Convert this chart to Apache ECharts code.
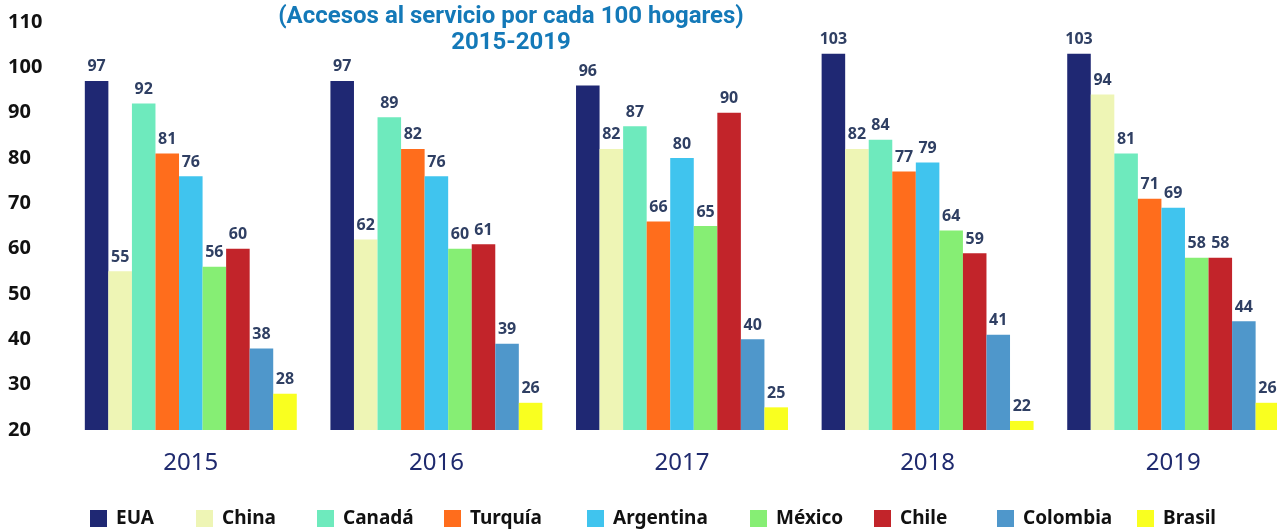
<!DOCTYPE html>
<html>
<head>
<meta charset="utf-8">
<script src="https://cdn.jsdelivr.net/npm/echarts@6/dist/echarts.min.js"></script>
<style>
  html, body { margin: 0; padding: 0; background: #fff; }
  #chart { width: 1277px; height: 530px; }
</style>
</head>
<body>
<div id="chart"></div>
<script>
// Accesos por cada 100 hogares, 2015-2019
const years = ['2015', '2016', '2017', '2018', '2019'];
const countries = ['EUA', 'China', 'Canadá', 'Turquía', 'Argentina', 'México', 'Chile', 'Colombia', 'Brasil'];
const colors = ['#1f2873', '#eef5b5', '#6eeabd', '#ff6d1c', '#40c4ee', '#86ee74', '#c2242a', '#4f97cb', '#f9ff20'];

const eua = [97, 97, 96, 103, 103];
const china = [55, 62, 82, 82, 94];
const canada = [92, 89, 87, 84, 81];
const turquia = [81, 82, 66, 77, 71];
const argentina = [76, 76, 80, 79, 69];
const mexico = [56, 60, 65, 64, 58];
const chile = [60, 61, 90, 59, 58];
const colombia = [38, 39, 40, 41, 44];
const brasil = [28, 26, 25, 22, 26];

const values = [eua, china, canada, turquia, argentina, mexico, chile, colombia, brasil];
const yTicks = { min: 20, max: 110, interval: 10 };

// legend item x positions (one legend per item, as in the original layout)
const legendLeft = [90, 196, 317, 444, 587, 750, 874, 997, 1137];

const chart = echarts.init(document.getElementById('chart'));

const series = countries.map((name, i) => ({
    name: name,
    type: 'bar',
    data: values[i],
    barGap: '0%',
    barCategoryGap: '13.7%',
    itemStyle: { color: colors[i] },
    label: {
        show: true,
        position: 'top',
        distance: 6,
        color: '#2f3f63',
        fontFamily: 'Noto Sans',
        fontWeight: 'bold',
        fontSize: 16
    }
}));

const legends = countries.map((name, i) => ({
    data: [name],
    left: legendLeft[i],
    top: 509,
    padding: 0,
    itemWidth: 17,
    itemHeight: 17,
    icon: 'rect',
    textStyle: {
        color: '#111',
        fontFamily: 'Noto Sans',
        fontWeight: 'bold',
        fontSize: 19,
        padding: [0, 0, 0, 4]
    },
    selectedMode: false
}));

const option = {
    animation: false,
    title: {
        text: '(Accesos al servicio por cada 100 hogares)\n2015-2019',
        left: 511,
        textAlign: 'center',
        top: 4,
        padding: 0,
        textStyle: {
            color: '#1479b8',
            fontFamily: 'Roboto',
            fontWeight: 'bold',
            fontSize: 24,
            lineHeight: 26
        }
    },
    legend: legends,
    grid: {
        left: 68,
        top: 22,
        width: 1228,
        height: 408,
        outerBoundsMode: 'none'
    },
    xAxis: {
        type: 'category',
        data: years,
        axisLine: { show: false },
        axisTick: { show: false },
        axisLabel: {
            margin: 21,
            color: '#1f2a6e',
            fontFamily: 'Noto Sans',
            fontSize: 24
        }
    },
    yAxis: {
        type: 'value',
        min: yTicks.min,
        max: yTicks.max,
        interval: yTicks.interval,
        splitLine: { show: false },
        axisLine: { show: false },
        axisTick: { show: false },
        axisLabel: {
            align: 'left',
            margin: 60,
            color: '#111',
            fontFamily: 'Noto Sans',
            fontWeight: 'bold',
            fontSize: 20
        }
    },
    series: series
};

chart.setOption(option);
</script>
</body>
</html>
